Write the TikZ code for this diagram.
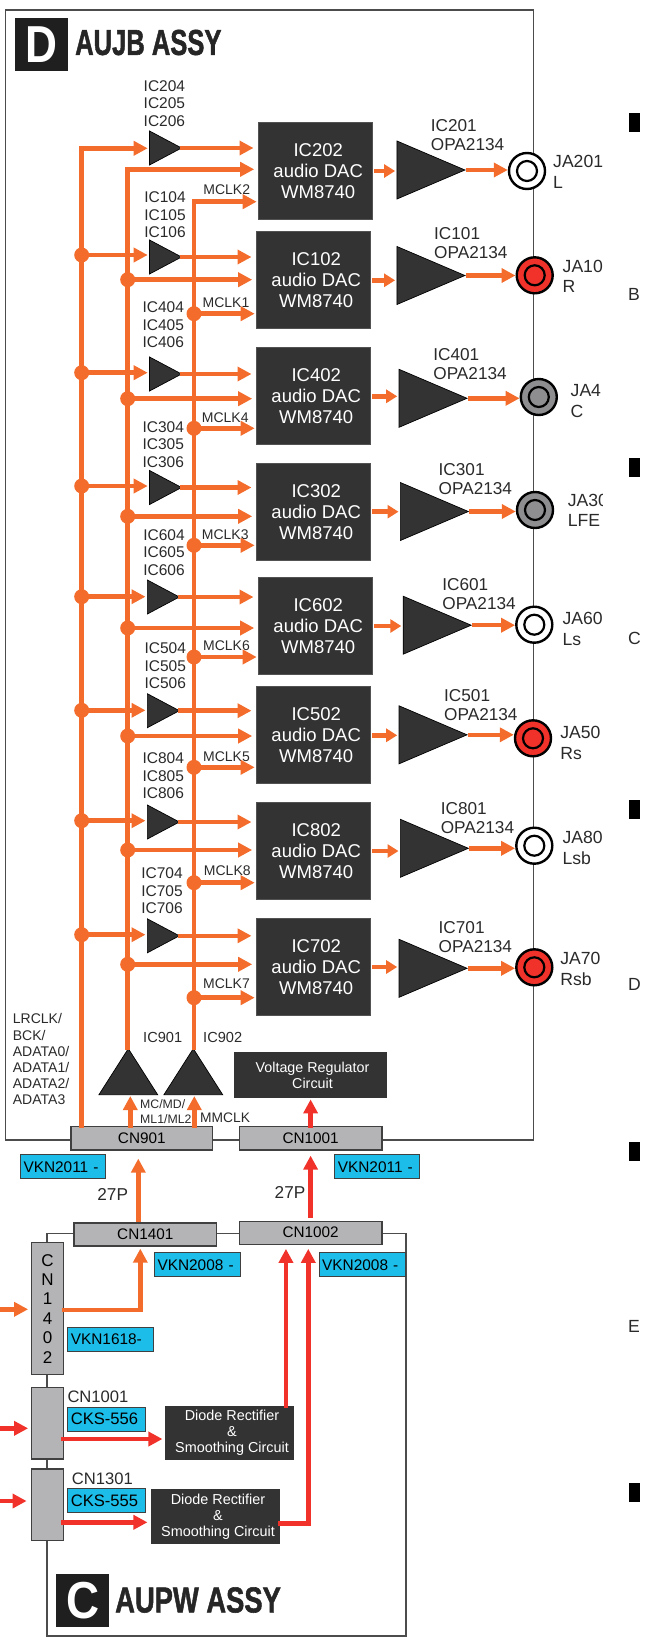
\documentclass[tikz,border=0pt]{standalone}
\usepackage{fontspec}
\setmainfont{Liberation Sans}
\newfontfamily\heavyfont[FakeBold=1.6]{Liberation Sans Bold}
\usetikzlibrary{arrows.meta,shapes.geometric}
\definecolor{sigorange}{HTML}{F36C2B}
\definecolor{pwrred}{HTML}{F0322B}
\definecolor{tagblue}{HTML}{1CBDE9}
\definecolor{darkbox}{HTML}{333333}
\definecolor{conngray}{HTML}{B4B4B6}
\definecolor{jackgray}{HTML}{8E8E90}
\definecolor{inktext}{HTML}{2A2A2A}
\newcommand{\fsize}[2]{\fontsize{#1}{#2}\selectfont}
\tikzset{
  sig/.style={draw=sigorange, line width=4.5pt, line cap=rect, -{Triangle[length=14pt,width=14pt]}},
  pwr/.style={sig, draw=pwrred},
  busline/.style={draw=sigorange, line width=4.6pt, line cap=rect},
  sigdot/.style={circle, fill=sigorange, minimum size=15pt, inner sep=0pt},
  dac/.style={draw=darkbox!85!white, fill=darkbox, line width=1pt, minimum width=114pt, minimum height=97pt, inner sep=0pt},
  dactext/.style={align=center, text=white, font=\fsize{18.5}{21}, inner sep=0pt},
  darkblock/.style={draw=black!80, fill=darkbox, line width=1.2pt, inner sep=0pt},
  blocktext/.style={align=center, text=white, font=\fsize{14.4}{16}, inner sep=0pt},
  tri/.style={isosceles triangle, isosceles triangle stretches, draw=black, fill=darkbox, line width=.7pt, inner sep=0pt},
  buffer/.style={tri, minimum width=34pt, minimum height=32pt, anchor=lower side},
  opamp/.style={tri, minimum width=58pt, minimum height=68pt, anchor=lower side},
  rxbuf/.style={tri, shape border rotate=90, minimum width=58.7pt, minimum height=46pt, anchor=lower side},
  jack/.style={circle, draw=black, line width=2.4pt, minimum size=36pt, inner sep=0pt},
  jackin/.style={circle, draw=black, line width=2.2pt, minimum size=20pt, inner sep=0pt},
  conn/.style={draw=black!75, fill=conngray, line width=1.3pt, inner sep=0pt, font=\fsize{15.3}{18}, text=black},
  tag/.style={draw=black!75, fill=tagblue, line width=1pt, inner xsep=3pt, inner ysep=0pt, minimum height=24pt, text width=#1, align=left, font=\fsize{15.4}{18}, anchor=north west},
  lbl/.style={inner sep=0pt, text=inktext, align=left},
  boxline/.style={draw=black!70, line width=1.1pt},
  regmark/.style={fill=black, minimum width=11pt, minimum height=19pt, inner sep=0pt},
  title/.style={inner sep=0pt, anchor=west, text=black!85, font=\fsize{36}{36}\heavyfont},
  badge/.style={fill=black!88, minimum size=53pt, inner sep=0pt, anchor=north west, text=white, font=\fsize{52}{52}\bfseries}
}
\begin{document}
\begin{tikzpicture}[x=1pt, y=-1pt]
  \useasboundingbox (0,0) rectangle (645,1638);
  % assy outlines
  \draw[boxline] (5.7,10) rectangle (533.5,1140);
  \draw[boxline] (47,1233.3) rectangle (406,1636);
  \node[badge] (badged) at (15,18) {\scalebox{.85}[1]{D}};
  \node[title] (titled) at (75,42.5) {\scalebox{.71}[1]{AUJB ASSY}};
  \node[badge] (badgec) at (56,1574) {\scalebox{.88}[1]{C}};
  \node[title] (titlec) at (115,1600) {\scalebox{.76}[1]{AUPW ASSY}};
  % audio DACs
  \foreach \n/\xa/\ya in {2/257.7/122, 1/255.7/231.3, 4/255.7/347.3, 3/255.7/462.7,
      6/257.7/577, 5/255.7/686.3, 8/255.7/802, 7/255.7/918} {
    \node[dac, anchor=north west] (dac\n) at (\xa,\ya) {};
    \node[dactext] (dactext\n) at ([xshift=3pt]dac\n.center) {IC\n02\\audio DAC\\WM8740};
  }
  % input buffers
  \foreach \n/\xa/\ya/\lx/\ly in {2/149.2/148/164.4/103.5, 1/149.2/257/165/214.7,
      4/149.2/374/163.2/324.7, 3/149.2/487.5/163.2/444.5, 6/147/597/164/552.3,
      5/147/710.7/165.2/665.7, 8/147/822/163.2/776, 7/147/935.8/162/891} {
    \node[buffer] (buf\n) at (\xa,\ya) {};
    \node[lbl, align=center, font=\fsize{15.5}{17.6}] (buflabel\n) at (\lx,\ly) {IC\n04\\IC\n05\\IC\n06};
  }
  % output amps and jacks
  \begin{scope}
    \clip (0,0) rectangle (602,1638);
    \foreach \n/\xa/\ya/\lx/\ly/\xj/\yj/\col/\xt/\yt/\na/\nb in {
        2/396.6/170/430.7/135.5/527/171/white/553/172.2/JA201/L,
        1/396.6/275.5/434/243/534.7/275.3/pwrred/562.5/276.3/JA10/R,
        4/398.7/398.3/433.2/364/538.8/397/jackgray/570.5/400.7/JA4/C,
        3/400/511.5/438.5/478.7/535/510/jackgray/567.6/510.3/JA30/LFE,
        6/402.8/625.2/442.2/594/534.3/624.7/white/562.3/629.3/JA60/Ls,
        5/398.7/734.8/444/705/533/738.3/pwrred/560.2/743/JA50/Rs,
        8/400/848.3/440.6/817.7/534.3/845.7/white/562.3/848.2/JA80/Lsb,
        7/398.7/968.3/438.5/937/534.3/967.3/pwrred/560.2/969.2/JA70/Rsb} {
      \node[opamp] (amp\n) at (\xa,\ya) {};
      \node[lbl, anchor=west, font=\fsize{17.2}{19}] (amplabel\n) at (\lx,\ly) {IC\n01\\OPA2134};
      \node[jack, fill=\col] (ja\n) at (\xj,\yj) {};
      \node[jackin, fill=\col] (jb\n) at (ja\n) {};
      \node[lbl, anchor=west, font=\fsize{17.6}{20.8}] (jalabel\n) at (\xt,\yt) {\na\\\nb};
    }
  \end{scope}
  % bus taps
  \coordinate (da2) at (81.7,148.3);
  \coordinate (db2) at (127.7,169.3);
  \coordinate (dc2) at (194,201.7);
  \node[lbl, font=\fsize{14}{16}] (mclk2) at (226.7,190) {MCLK2};
  \foreach \n/\ya/\yb/\yc/\xm/\ym in {1/255/279.7/313.7/226/302.3, 4/372.7/398.7/428.3/225.2/417.3,
      3/486/516.3/545.3/225.2/535, 6/596.7/628/657/226.5/646, 5/710.3/736/767.3/226.5/756.3,
      8/820.7/850/882.7/227.3/870.3, 7/934.7/964.3/997.7/226.5/984} {
    \node[sigdot] (da\n) at (81.7,\ya) {};
    \node[sigdot] (db\n) at (127.7,\yb) {};
    \node[sigdot] (dc\n) at (194,\yc) {};
    \node[lbl, font=\fsize{14}{16}] (mclk\n) at (\xm,\ym) {MCLK\n};
  }
  % bottom of AUJB
  \node[tri, rxbuf] (ic901) at (128.3,1095) {};
  \node[tri, rxbuf] (ic902) at (193.3,1095) {};
  \node[lbl, font=\fsize{14.6}{16}] (ic901label) at (162.7,1037.7) {IC901};
  \node[lbl, font=\fsize{14.6}{16}] (ic902label) at (222.7,1037.7) {IC902};
  \node[darkblock, minimum width=152pt, minimum height=45pt] (reg) at (310.5,1075.3) {};
  \node[blocktext, font=\fsize{14.3}{16}] (regtext) at (312.5,1075.3) {Voltage Regulator\\Circuit};
  \node[conn, minimum width=141.5pt, minimum height=23.5pt] (cn901) at (141.8,1138.2) {CN901};
  \node[conn, minimum width=142.5pt, minimum height=23.5pt] (cn1001) at (310.6,1138.2) {CN1001};
  \node[lbl, anchor=north west, font=\fsize{14}{16.2}] (busnames) at (12.7,1013.5) {LRCLK/\\BCK/\\ADATA0/\\ADATA1/\\ADATA2/\\ADATA3};
  \node[lbl, anchor=west, font=\fsize{12.3}{15}] (mcnames) at (140,1111.2) {MC/MD/\\ML1/ML2};
  \node[lbl, anchor=west, font=\fsize{13.8}{16}] (mmclk) at (200,1118) {MMCLK};
  \node[tag=79pt] (vkna) at (20,1154.3) {VKN2011 -};
  \node[tag=79pt] (vknb) at (334.3,1154.3) {VKN2011 -};
  \node[lbl, font=\fsize{17.2}{19}] (pa) at (112.7,1194) {27P};
  \node[lbl, font=\fsize{17.2}{19}] (pb) at (290,1192.7) {27P};
  % AUPW
  \node[conn, minimum width=142.5pt, minimum height=23pt] (cn1401) at (145.3,1234.5) {CN1401};
  \node[conn, minimum width=142.5pt, minimum height=23pt] (cn1002) at (310.6,1232.7) {CN1002};
  \node[tag=80pt] (vknc) at (154,1252.3) {VKN2008 -};
  \node[tag=80pt] (vknd) at (318.7,1252.3) {VKN2008 -};
  \node[conn, minimum width=31.5pt, minimum height=132pt, align=center, font=\fsize{17}{19.4}] (cn1402) at (47.5,1308.7) {C\\N\\1\\4\\0\\2};
  \node[tag=80pt] (vkne) at (67.3,1327) {VKN1618-};
  \node[conn, minimum width=31.5pt, minimum height=71.3pt] (cn1001b) at (47.5,1423.3) {};
  \node[conn, minimum width=31.5pt, minimum height=71.7pt] (cn1301) at (47.5,1504.8) {};
  \node[lbl, anchor=west, font=\fsize{16.6}{18}] (cn1001name) at (67.3,1396.7) {CN1001};
  \node[lbl, anchor=west, font=\fsize{16.6}{18}] (cn1301name) at (71.7,1479) {CN1301};
  \node[tag=72pt, font=\fsize{16.6}{18}] (cksa) at (67.3,1406.7) {CKS-556};
  \node[tag=72pt, font=\fsize{16.6}{18}] (cksb) at (67.3,1488.3) {CKS-555};
  \node[darkblock, minimum width=127.3pt, minimum height=52.6pt] (diodea) at (229.7,1433) {};
  \node[blocktext] (diodeatext) at (232,1433) {Diode Rectifier\\\&\\Smoothing Circuit};
  \node[darkblock, minimum width=127.3pt, minimum height=53.7pt] (diodeb) at (215.7,1516.8) {};
  \node[blocktext] (diodebtext) at (218,1516.8) {Diode Rectifier\\\&\\Smoothing Circuit};
  % margin marks
  \foreach \ya [count=\i] in {122.5,467.5,809.5,1151.5,1492.5}
    \node[regmark] (regmark\i) at (634.5,\ya) {};
  \foreach \t/\ya in {B/294,C/638,D/984,E/1326}
    \node[lbl, anchor=west, font=\fsize{17.6}{20}] (zone\t) at (628,\ya) {\t};
  % row connectors
  \foreach \n in {2,1,4,3,6,5,8,7} {
    \draw[sig, shorten >=1.5pt] (da\n) -- (da\n -| buf\n.lower side);
    \draw[sig, shorten >=4.2pt] (buf\n.apex) -- (buf\n.apex -| dac\n.west);
    \draw[sig, shorten >=3.5pt] (db\n) -- (db\n -| dac\n.west);
    \draw[sig, shorten >=1pt] (dc\n) -- (dc\n -| dac\n.west);
    \draw[sig, -{Triangle[length=11pt,width=13pt]}, shorten <=4pt, shorten >=1.5pt] (dac\n.east) -- (dac\n.east -| amp\n.lower side);
    \draw[sig, shorten <=2pt] (amp\n.apex) -- (amp\n.apex -| ja\n.west);
  }
  % buses
  \draw[busline] (da2) -- (da2 |- cn901.north);
  \draw[busline] (db2) -- (db2 |- ic901.apex);
  \draw[busline] (dc2) -- (dc2 |- ic902.apex);
  \draw[sig, shorten >=1pt] ([xshift=2pt]ic901.lower side |- cn901.north) -- ([xshift=2pt]ic901.lower side);
  \draw[sig, shorten >=1pt] ([xshift=1pt]ic902.lower side |- cn901.north) -- ([xshift=1pt]ic902.lower side);
  \draw[pwr, shorten >=1pt] (cn1001.north) -- (cn1001.north |- reg.south);
  \draw[sig, shorten <=3pt, shorten >=8pt] ([xshift=-7pt]cn1401.north) -- ([xshift=-7pt]cn1401.north |- cn901.south);
  \draw[pwr, shorten <=4.6pt, shorten >=5pt] (cn1002.north) -- (cn1002.north |- cn1001.south);
  % AUPW connectors
  \coordinate (sigfree) at (0,1309.3);
  \coordinate (pwrfreea) at (0,1428.3);
  \coordinate (pwrfreeb) at (0,1501);
  \coordinate (sigup) at (140.3,1310);
  \coordinate (pwra) at (63,1439);
  \coordinate (pwrb) at (63,1522.3);
  \coordinate (pwrc) at (308.3,1523.3);
  \draw[sig, shorten >=3pt] (sigfree) -- (sigfree -| cn1402.west);
  \draw[pwr, shorten >=3pt] (pwrfreea) -- (pwrfreea -| cn1001b.west);
  \draw[pwr, shorten >=4.5pt] (pwrfreeb) -- (pwrfreeb -| cn1301.west);
  \draw[sig, shorten >=2pt] (sigup -| cn1402.east) -- (sigup) -- (sigup |- cn1401.south);
  \draw[pwr, shorten >=3pt] (pwra) -- (pwra -| diodea.west);
  \draw[pwr, shorten >=4pt] (pwrb) -- (pwrb -| diodeb.west);
  \draw[pwr, shorten >=4pt] ([xshift=-8pt]diodea.north east) -- ([xshift=-8pt]diodea.north east |- cn1002.south);
  \draw[pwr, shorten >=4pt] (pwrc -| diodeb.east) -- (pwrc) -- (pwrc |- cn1002.south);
\end{tikzpicture}
\end{document}
